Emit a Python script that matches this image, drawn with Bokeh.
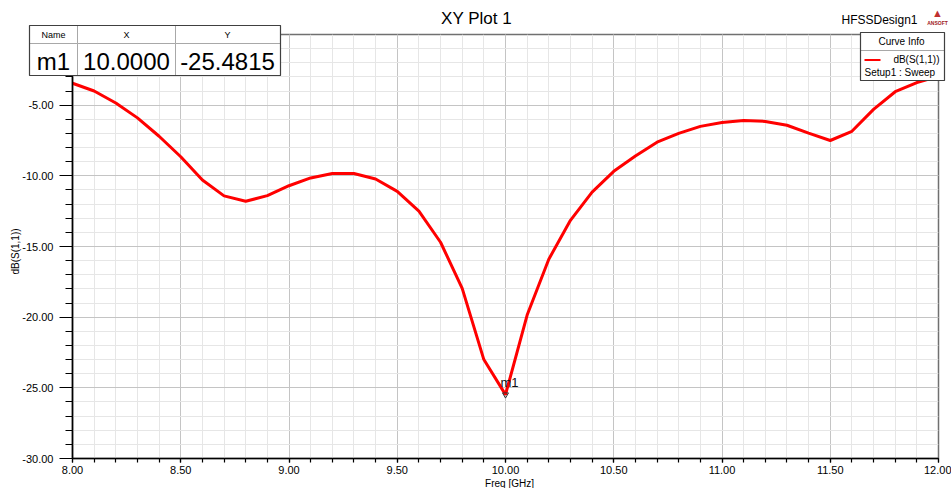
from bokeh.plotting import figure
from bokeh.models import Range1d, FixedTicker, PrintfTickFormatter
from bokeh.core.properties import value
from bokeh.embed import file_html
from bokeh.resources import INLINE
import math

# ---------------- data ----------------
freq_ghz = [8.0, 8.1, 8.2, 8.3, 8.4, 8.5, 8.6, 8.7, 8.8, 8.9,
            9.0, 9.1, 9.2, 9.3, 9.4, 9.5, 9.6, 9.7, 9.8, 9.9,
            10.0, 10.1, 10.2, 10.3, 10.4, 10.5, 10.6, 10.7, 10.8, 10.9,
            11.0, 11.1, 11.2, 11.3, 11.4, 11.5, 11.6, 11.7, 11.8, 11.9, 12.0]
s11_db = [-3.45, -4.0, -4.85, -5.9, -7.2, -8.65, -10.3, -11.42, -11.8, -11.4,
          -10.7, -10.15, -9.83, -9.83, -10.22, -11.1, -12.5, -14.7, -17.96, -23.0,
          -25.4815, -19.85, -15.9, -13.15, -11.15, -9.68, -8.6, -7.62, -7.0, -6.5,
          -6.22, -6.08, -6.15, -6.42, -6.98, -7.5, -6.85, -5.3, -4.05, -3.4, -2.95]

marker_name = "m1"
marker_x = 10.0
marker_y = -25.4815

x_major_ticks = [8.0, 8.5, 9.0, 9.5, 10.0, 10.5, 11.0, 11.5, 12.0]
x_minor_ticks = [8.0, 8.1, 8.2, 8.3, 8.4, 8.5, 8.6, 8.7, 8.8, 8.9,
                 9.0, 9.1, 9.2, 9.3, 9.4, 9.5, 9.6, 9.7, 9.8, 9.9,
                 10.0, 10.1, 10.2, 10.3, 10.4, 10.5, 10.6, 10.7, 10.8, 10.9,
                 11.0, 11.1, 11.2, 11.3, 11.4, 11.5, 11.6, 11.7, 11.8, 11.9, 12.0]
y_major_ticks = [-30, -25, -20, -15, -10, -5]
y_minor_ticks = [-30, -29, -28, -27, -26, -25, -24, -23, -22, -21, -20, -19, -18, -17, -16,
                 -15, -14, -13, -12, -11, -10, -9, -8, -7, -6, -5, -4, -3, -2, -1, 0]
x_start, x_end = 8.0, 12.0
y_start, y_end = -30.0, 0.0

title_text = "XY Plot 1"
design_text = "HFSSDesign1"
x_label = "Freq [GHz]"
y_label = "dB(S(1,1))"
curve_name = "dB(S(1,1))"
curve_setup = "Setup1 : Sweep"

# ---------------- layout (canvas pixels) ----------------
W, H = 951, 488
FL, FR, FT, FB = 72, 938, 34, 458
FONT = "Liberation Sans"

p = figure(width=W, height=H, x_range=Range1d(x_start, x_end), y_range=Range1d(y_start, y_end),
           output_backend="svg", toolbar_location=None,
           min_border_left=FL, min_border_right=W - FR,
           min_border_top=FT, min_border_bottom=H - FB)
p.background_fill_color = "white"
p.border_fill_color = "white"
p.outline_line_color = "#707070"
p.outline_line_width = 1.5

# axes
p.xaxis.ticker = FixedTicker(ticks=x_major_ticks, minor_ticks=x_minor_ticks)
p.yaxis.ticker = FixedTicker(ticks=y_major_ticks, minor_ticks=y_minor_ticks)
p.xaxis.formatter = PrintfTickFormatter(format="%.2f")
p.yaxis.formatter = PrintfTickFormatter(format="%.2f")
for ax in (p.xaxis, p.yaxis):
    ax.axis_line_color = "black"
    ax.axis_line_width = 1.6
    ax.major_tick_line_color = "black"
    ax.minor_tick_line_color = "black"
    ax.major_tick_line_width = 1.2
    ax.minor_tick_line_width = 1.2
    ax.major_tick_in = 0
    ax.minor_tick_in = 0
    ax.major_label_text_font = FONT
    ax.major_label_text_font_size = "11px"
    ax.major_label_text_color = "black"
p.yaxis.major_tick_out = 13
p.yaxis.minor_tick_out = 7
p.yaxis.major_label_standoff = 6
p.xaxis.major_tick_out = 4
p.xaxis.minor_tick_out = 4
p.xaxis.major_label_standoff = 3

# grids
for g in (p.xgrid, p.ygrid):
    g.grid_line_color = "#c4c4c4"
    g.grid_line_width = 1
    g.minor_grid_line_color = "#e6e6e6"
    g.minor_grid_line_width = 1
p.xgrid.ticker = p.xaxis.ticker
p.ygrid.ticker = p.yaxis.ticker
# major grid line also at the top (0 dB)
p.ygrid.ticker = FixedTicker(ticks=y_major_ticks + [0], minor_ticks=y_minor_ticks)

# curve
p.line(freq_ghz, s11_db, line_color="#ff0000", line_width=3)

# marker
p.scatter([marker_x], [marker_y], marker="inverted_triangle", size=6,
          fill_color=None, line_color="#333333", line_width=1)
p.text([marker_x], [marker_y], text=[marker_name], x_offset=-5, y_offset=-12,
       text_align="left", text_baseline="alphabetic", text_font=value(FONT),
       text_font_size=value("13px"), text_color="#111111")


# ----- decorations placed by canvas pixel position (not clipped: overlay level) -----
def dx(px):
    return x_start + (px - FL) / (FR - FL) * (x_end - x_start)


def dy(py):
    return y_end - (py - FT) / (FB - FT) * (y_end - y_start)


def box(l, t, r, b, line="#404040", fill="white", lw=1.0):
    p.quad(left=[dx(l)], right=[dx(r)], top=[dy(t)], bottom=[dy(b)],
           fill_color=fill if fill else None, line_color=line if line else None,
           line_width=lw, level="overlay")


def label(txt, px, py, size, align="center", color="black", angle=0.0, style="normal"):
    p.text(x=[x_start], y=[y_end], text=[txt], x_offset=px - FL, y_offset=py - FT,
           angle=angle, text_align=align, text_baseline="middle",
           text_font=value(FONT), text_font_size=value(f"{size}px"),
           text_color=color, text_font_style=style, level="overlay")


# title and design name
label(title_text, 476, 18, 17)
label(design_text, 917, 19, 12, align="right")
label("\u25B2", 937, 12, 11, color="#c03030")
label("ANSOFT", 937, 22, 5, color="#a02020", style="bold")

# axis titles
label(y_label, 15, 251, 10, angle=math.pi / 2)
label(x_label, 509, 483, 10)

# marker table
cols = [29, 77, 175, 280]
rows = [25, 43, 75]
for i in range(3):
    for j in range(2):
        box(cols[i], rows[j], cols[i + 1], rows[j + 1], line="#a8a8a8")
box(29, 25, 280, 75, line="#404040", fill=None, lw=1.2)
label("Name", 53, 34, 9)
label("X", 126, 34, 9)
label("Y", 227, 34, 9)
label(marker_name, 53, 61, 24)
label(f"{marker_x:.4f}", 126, 61, 24)
label(f"{marker_y:.4f}", 227, 61, 24)

# curve info legend
box(860, 32, 944, 50, line="#a8a8a8")
box(860, 50, 944, 80, line="#a8a8a8")
box(860, 32, 944, 80, line="#404040", fill=None, lw=1.2)
label("Curve Info", 901, 41, 10)
box(864, 58.5, 880, 60.5, line=None, fill="#ff0000")
label(curve_name, 939, 59, 10, align="right")
label(curve_setup, 864, 72, 10, align="left")

open("out.html", "w").write(file_html(p, INLINE))
